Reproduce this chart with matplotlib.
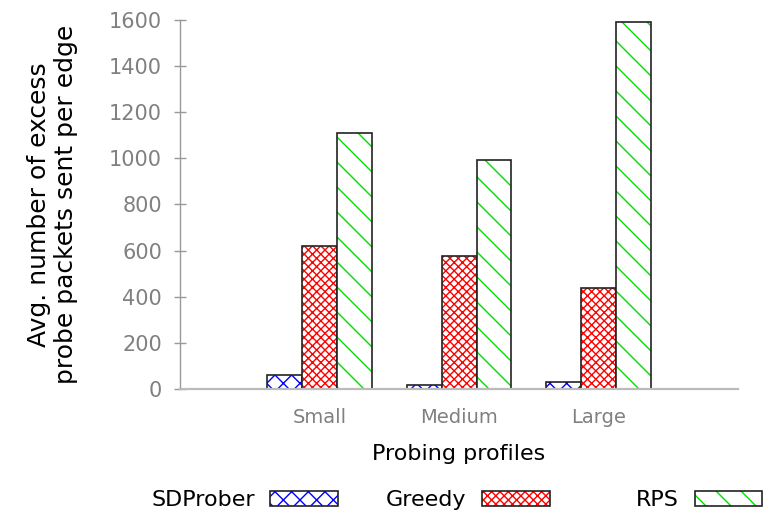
import numpy as np
import matplotlib
matplotlib.use("Agg")
import matplotlib.pyplot as plt
import matplotlib.hatch as mhatch
from matplotlib.patches import Patch
from matplotlib.legend_handler import HandlerTuple

categories = ["Small", "Medium", "Large"]
series_names = ["SDProber", "Greedy", "RPS"]
sdprober = [60, 17, 30]
greedy = [622, 578, 438]
rps = [1112, 992, 1592]
yticks = [0, 200, 400, 600, 800, 1000, 1200, 1400, 1600]

values = [sdprober, greedy, rps]
hatch_colors = ["#0000ff", "#ff0000", "#00dd00"]
hatches = ["xx", "xxxx", "\\\\"]

# sparser back-slash hatch (gnuplot-like spacing)
try:
    class _SparseSouthEast(mhatch.SouthEastHatch):
        def __init__(self, hatch, density):
            self.num_lines = int(hatch.count('\\') * density * 2 / 3
                                 + (hatch.count('x') + hatch.count('X')) * density)
            self.num_vertices = (self.num_lines + 1) * 2 if self.num_lines else 0
    mhatch._hatch_types = [(_SparseSouthEast if t is mhatch.SouthEastHatch else t)
                           for t in mhatch._hatch_types]
except Exception:
    pass

plt.rcParams["hatch.linewidth"] = 1.0
fig = plt.figure(figsize=(7.7, 5.14), dpi=100)
ax = fig.add_axes([0.234, 0.2432, 0.7244, 0.7179])

x = np.arange(len(categories))
w = 0.25
for i, (vals, hc, h) in enumerate(zip(values, hatch_colors, hatches)):
    pos = x + (i - 1) * w
    ax.bar(pos, vals, width=w, color="white", edgecolor=hc, hatch=h, linewidth=0)
    ax.bar(pos, vals, width=w, fill=False, edgecolor="#222222", linewidth=1.2)

ax.set_xlim(-1, 3)
ax.set_ylim(0, 1600)
ax.set_yticks(yticks)
ax.set_xticks(x)
ax.set_xticklabels(categories)
for s in ["top", "right"]:
    ax.spines[s].set_visible(False)
ax.spines["left"].set_color("#999999")
ax.spines["left"].set_linewidth(1.0)
ax.spines["bottom"].set_color("#bbbbbb")
ax.spines["bottom"].set_linewidth(1.6)
ax.tick_params(axis="y", direction="inout", length=8, width=1, color="#999999",
               labelcolor="#808080", labelsize=15, pad=9)
ax.tick_params(axis="x", length=0, labelcolor="#808080", labelsize=14, pad=14)
ax.set_xlabel("Probing profiles", fontsize=16, labelpad=12)
ax.set_ylabel("Avg. number of excess\nprobe packets sent per edge", fontsize=18, labelpad=22)

rights = [0.439, 0.714, 0.990]
for name, hc, h, r in zip(series_names, hatch_colors, hatches, rights):
    handle = (Patch(facecolor="white", edgecolor=hc, hatch=h, linewidth=0),
              Patch(fill=False, edgecolor="#222222", linewidth=1.2))
    fig.legend([handle], [name], handler_map={tuple: HandlerTuple(ndivide=1, pad=0)},
               loc="center right", bbox_to_anchor=(r, 0.027), frameon=False,
               markerfirst=False, fontsize=16, handlelength=3.05, handleheight=0.68,
               handletextpad=0.7, borderpad=0, borderaxespad=0)

fig.savefig("out.png", dpi=100)
